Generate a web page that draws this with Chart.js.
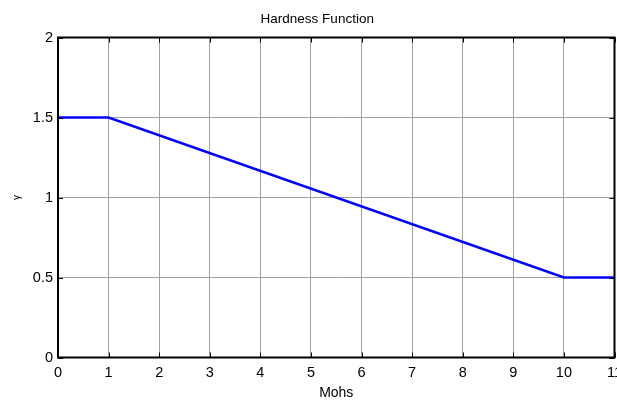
<!DOCTYPE html>
<html>
<head>
<meta charset="utf-8">
<script src="https://cdn.jsdelivr.net/npm/chart.js@4"></script>
<style>
  html, body { margin: 0; padding: 0; background: #ffffff; }
  #wrap { width: 617px; height: 403px; }
</style>
</head>
<body>
<div id="wrap"><canvas id="c" width="617" height="403"></canvas></div>
<script>
// Hardness factor as a function of Mohs hardness
const mohs = [0, 1, 10, 11];
const gamma = [1.5, 1.5, 0.5, 0.5];

// Axis ticks
const xTicks = [0, 1, 2, 3, 4, 5, 6, 7, 8, 9, 10, 11];
const yTicks = [0, 0.5, 1, 1.5, 2];

const FONT = "'Liberation Sans', Arial, Helvetica, sans-serif";

// Black frame around the plot area with short inward tick marks on all four sides
const frameTicks = {
  id: 'frameTicks',
  afterDatasetsDraw(chart) {
    const { ctx, chartArea: a, scales } = chart;
    const len = 5;
    ctx.save();
    ctx.strokeStyle = '#000000';
    ctx.lineWidth = 1;
    ctx.beginPath();
    scales.x.ticks.forEach(t => {
      const px = Math.round(scales.x.getPixelForValue(t.value)) + 0.5;
      ctx.moveTo(px, a.bottom); ctx.lineTo(px, a.bottom - len);
      ctx.moveTo(px, a.top); ctx.lineTo(px, a.top + len);
    });
    scales.y.ticks.forEach(t => {
      const py = Math.round(scales.y.getPixelForValue(t.value)) + 0.5;
      ctx.moveTo(a.left, py); ctx.lineTo(a.left + len, py);
      ctx.moveTo(a.right, py); ctx.lineTo(a.right - len, py);
    });
    ctx.stroke();
    ctx.lineWidth = 2;
    ctx.strokeRect(a.left, a.top, a.right - a.left, a.bottom - a.top);
    ctx.restore();
  }
};

new Chart(document.getElementById('c'), {
  type: 'scatter',
  data: {
    datasets: [{
      data: mohs.map((m, i) => ({ x: m, y: gamma[i] })),
      showLine: true,
      borderColor: '#0000ff',
      backgroundColor: '#0000ff',
      borderWidth: 2.5,
      pointRadius: 0,
      tension: 0,
      clip: false
    }]
  },
  options: {
    responsive: false,
    animation: false,
    devicePixelRatio: 1,
    layout: { padding: { left: 20, right: 2.5, top: 0, bottom: 0 } },
    plugins: {
      legend: { display: false },
      tooltip: { enabled: false },
      title: {
        display: true,
        text: 'Hardness Function',
        color: '#000000',
        font: { family: FONT, size: 13.5, weight: 'normal', lineHeight: 1.2 },
        padding: { top: 10.9, bottom: 10.4 }
      }
    },
    scales: {
      x: {
        type: 'linear',
        min: 0,
        max: 11,
        afterBuildTicks: s => { s.ticks = xTicks.map(v => ({ value: v })); },
        afterFit: s => { s.height = 45.5; s.paddingLeft = 0; s.paddingRight = 0; },
        ticks: {
          color: '#000000',
          font: { family: FONT, size: 14.5 },
          padding: 7,
          maxRotation: 0,
          autoSkip: false
        },
        grid: { color: '#a0a0a0', lineWidth: 1, drawTicks: false },
        border: { display: false },
        title: {
          display: true,
          text: 'Mohs',
          color: '#000000',
          font: { family: FONT, size: 14, lineHeight: 1.2 },
          padding: { top: 0, bottom: 1.8 }
        }
      },
      y: {
        type: 'linear',
        min: 0,
        max: 2,
        afterBuildTicks: s => { s.ticks = yTicks.map(v => ({ value: v })); },
        afterFit: s => { s.width = 38; s.paddingTop = 0; s.paddingBottom = 0; },
        ticks: {
          color: '#000000',
          font: { family: FONT, size: 14.5 },
          padding: 5,
          autoSkip: false,
          callback: v => String(v)
        },
        grid: { color: '#a0a0a0', lineWidth: 1, drawTicks: false },
        border: { display: false },
        title: {
          display: true,
          text: 'γ',
          color: '#000000',
          font: { family: FONT, size: 10, lineHeight: 1.2 },
          padding: { top: -9, bottom: 0 }
        }
      }
    }
  },
  plugins: [frameTicks]
});
</script>
</body>
</html>
